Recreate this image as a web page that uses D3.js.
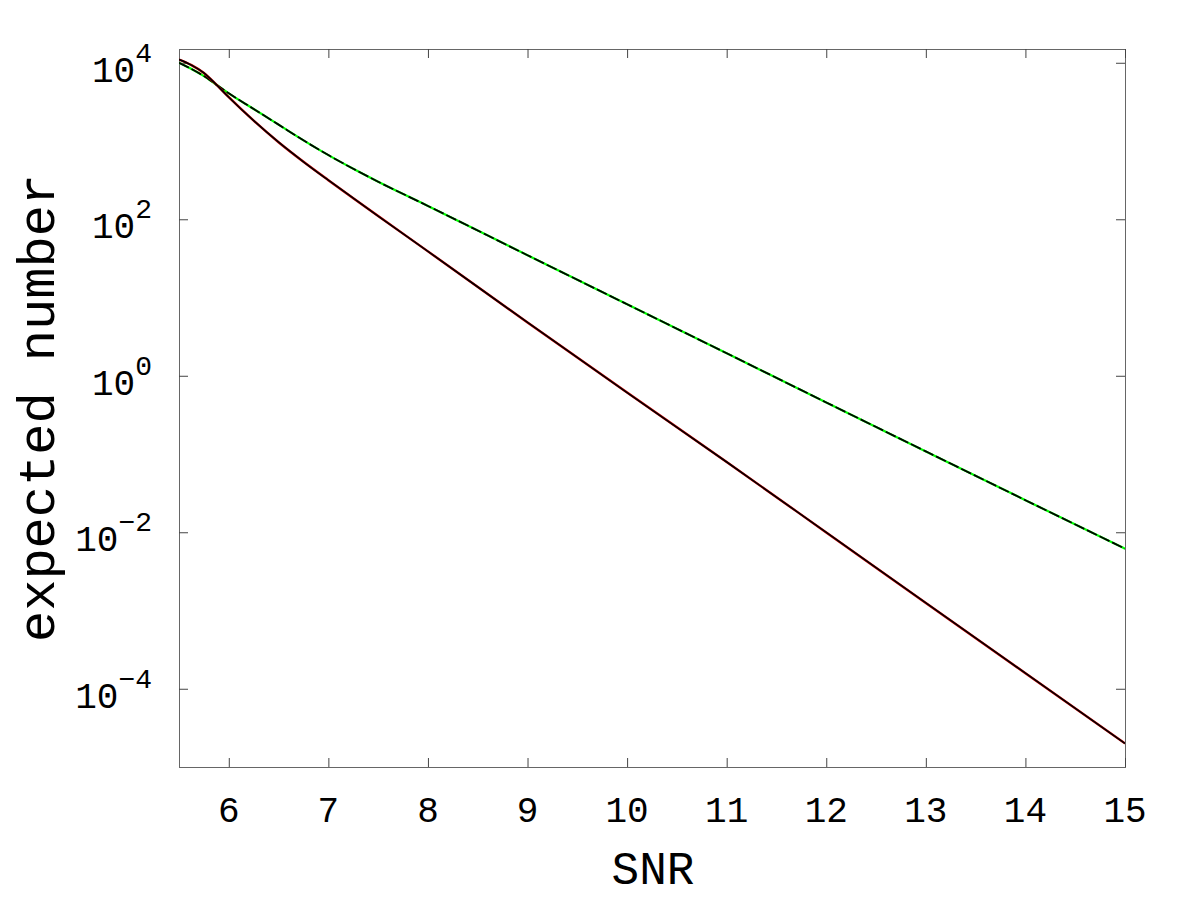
<!DOCTYPE html>
<html>
<head>
<meta charset="utf-8">
<script src="https://cdn.jsdelivr.net/npm/d3@7"></script>
<style>
  html, body { margin: 0; padding: 0; background: #fff; }
  svg { display: block; }
  text { font-family: "Liberation Mono", "DejaVu Sans Mono", monospace; fill: #000; }
</style>
</head>
<body>
<svg id="chart" width="1200" height="900"></svg>
<script>
// ---- data ----
const snr = [5.5, 5.625, 5.75, 5.875, 6.0, 6.25, 6.5, 6.75, 7.0, 7.25, 7.5, 8.0, 9.0, 10.0, 11.0, 12.0, 13.0, 14.0, 15.0];
const upperCounts = [10000, 8320, 6760, 5250, 4070, 2570, 1620, 1020, 661, 442, 302, 148, 34.7, 8.2, 1.94, 0.456, 0.108, 0.0257, 0.00617];
const lowerCounts = [11000, 9330, 7410, 5250, 3630, 1820, 966, 543, 316, 186, 110, 38.9, 4.8, 0.61, 0.079, 0.00995, 0.00125, 0.000158, 0.00002];
const xTicks = [6, 7, 8, 9, 10, 11, 12, 13, 14, 15];
const yTicks = [1e4, 1e2, 1e0, 1e-2, 1e-4];
const yTickExp = ["4", "2", "0", "\u22122", "\u22124"];
const xTitle = "SNR";
const yTitle = "expected number";

// ---- layout ----
const L = 179, R = 1125, T = 49, B = 767;
const svg = d3.select("#chart");

const x = d3.scaleLinear().domain([5.5, 15]).range([L, R]);
const y = d3.scaleLog().domain([1e-5, 1.5e4]).range([B, T]);

// frame
svg.append("rect")
  .attr("x", L + 0.5).attr("y", T + 0.5)
  .attr("width", R - L).attr("height", B - T)
  .attr("fill", "none").attr("stroke", "#666").attr("stroke-width", 1);

// ticks (inward, all four sides) via d3 axes
const tickLen = 9;
const axisStyle = g => {
  g.select(".domain").remove();
  g.selectAll(".tick line").attr("stroke", "#444").attr("stroke-width", 1);
  g.selectAll(".tick text").remove();
};
svg.append("g").attr("transform", `translate(0,${B})`)
  .call(d3.axisBottom(x).tickValues(xTicks).tickSizeInner(-tickLen).tickSizeOuter(0)).call(axisStyle);
svg.append("g").attr("transform", `translate(0,${T})`)
  .call(d3.axisTop(x).tickValues(xTicks).tickSizeInner(-tickLen).tickSizeOuter(0)).call(axisStyle);
svg.append("g").attr("transform", `translate(${L},0)`)
  .call(d3.axisLeft(y).tickValues(yTicks).tickSizeInner(-tickLen).tickSizeOuter(0)).call(axisStyle);
svg.append("g").attr("transform", `translate(${R},0)`)
  .call(d3.axisRight(y).tickValues(yTicks).tickSizeInner(-tickLen).tickSizeOuter(0)).call(axisStyle);

// x tick labels
svg.append("g").selectAll("text").data(xTicks).join("text")
  .attr("x", d => x(d)).attr("y", 822)
  .attr("text-anchor", "middle")
  .attr("font-size", 36)
  .text(d => d);

// y tick labels: 10^n
const yl = svg.append("g").selectAll("text").data(yTicks).join("text")
  .attr("x", 152).attr("y", d => y(d) + 19)
  .attr("text-anchor", "end")
  .attr("font-size", 36);
yl.append("tspan").text("10");
yl.append("tspan").attr("font-size", 28).attr("dy", -20).text((d, i) => yTickExp[i]);

// axis titles
svg.append("text").attr("x", (L + R) / 2 + 1).attr("y", 884)
  .attr("text-anchor", "middle").attr("font-size", 46).text(xTitle);
svg.append("text")
  .attr("transform", `translate(54,${(T + B) / 2}) rotate(-90)`)
  .attr("text-anchor", "middle").attr("font-size", 52).text(yTitle);

// lines
svg.append("clipPath").attr("id", "clip")
  .append("rect").attr("x", L).attr("y", T).attr("width", R - L).attr("height", B - T);
const line = vals => d3.line().x((d, i) => x(snr[i])).y(d => y(d)).curve(d3.curveMonotoneX)(vals);
const plot = svg.append("g").attr("clip-path", "url(#clip)");

plot.append("path").attr("d", line(upperCounts))
  .attr("fill", "none").attr("stroke", "#00ff00").attr("stroke-width", 2.2);
plot.append("path").attr("d", line(upperCounts))
  .attr("fill", "none").attr("stroke", "#000").attr("stroke-width", 1.8)
  .attr("stroke-dasharray", "11,3");

plot.append("path").attr("d", line(lowerCounts))
  .attr("fill", "none").attr("stroke", "#cc0000").attr("stroke-width", 2.4);
plot.append("path").attr("d", line(lowerCounts))
  .attr("fill", "none").attr("stroke", "#000").attr("stroke-width", 1.6);
</script>
</body>
</html>
